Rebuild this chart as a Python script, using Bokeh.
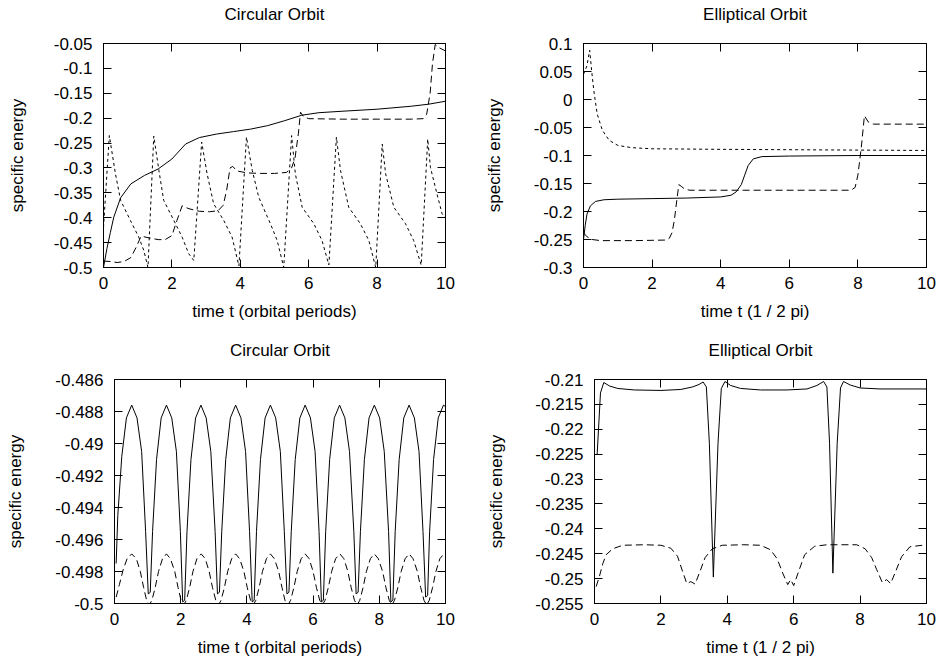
from bokeh.plotting import figure
from bokeh.layouts import column, row
from bokeh.models import FixedTicker, LinearAxis
from bokeh.embed import file_html
from bokeh.resources import INLINE

# ---------------- data ----------------
x_ticks = [0, 2, 4, 6, 8, 10]
x_tick_labels = ["0", "2", "4", "6", "8", "10"]

# Panel 1: circular orbit (top left)
p1_yticks = [-0.5, -0.45, -0.4, -0.35, -0.3, -0.25, -0.2, -0.15, -0.1, -0.05]
p1_ylabels = ["-0.5", "-0.45", "-0.4", "-0.35", "-0.3", "-0.25", "-0.2", "-0.15", "-0.1", "-0.05"]
t1_solid = [0, 0.1, 0.2, 0.3, 0.5, 0.8, 1.2, 1.6, 2.0, 2.4, 2.8, 3.3, 3.8, 4.3, 4.8, 5.3,
            5.8, 6.3, 7, 8, 9, 9.5, 10]
e1_solid = [-0.5, -0.462, -0.43, -0.399, -0.36, -0.332, -0.315, -0.302, -0.282, -0.252, -0.239,
            -0.232, -0.227, -0.222, -0.215, -0.205, -0.194, -0.189, -0.186, -0.182, -0.176,
            -0.172, -0.166]
t1_dash = [0, 0.2, 0.4, 0.6, 0.8, 0.95, 1.1, 1.3, 1.6, 1.8, 2.0, 2.15, 2.3, 2.5, 2.8, 3.1,
           3.35, 3.5, 3.6, 3.7, 3.78, 3.9, 4.2, 4.6, 5.0, 5.35, 5.5, 5.6, 5.7, 5.76, 5.85,
           6.0, 7.0, 8.0, 9.0, 9.35, 9.45, 9.55, 9.62, 9.70, 9.8, 10.0]
e1_dash = [-0.487, -0.488, -0.490, -0.488, -0.480, -0.460, -0.437, -0.440, -0.444, -0.444,
           -0.436, -0.405, -0.376, -0.382, -0.387, -0.388, -0.386, -0.375, -0.345, -0.300,
           -0.297, -0.306, -0.310, -0.311, -0.311, -0.309, -0.300, -0.280, -0.230, -0.188,
           -0.197, -0.201, -0.202, -0.202, -0.202, -0.201, -0.192, -0.150, -0.090, -0.052,
           -0.058, -0.065]
t1_dot = [0.0, 0.17, 0.35, 0.5, 0.79, 1.03, 1.18, 1.3, 1.47, 1.62, 1.76, 2.06, 2.3, 2.49,
          2.64, 2.87, 3.03, 3.22, 3.52, 3.76, 3.96, 4.18, 4.35, 4.54, 4.88, 5.08, 5.27, 5.5,
          5.61, 5.81, 6.15, 6.39, 6.59, 6.81, 6.93, 7.17, 7.51, 7.76, 7.96, 8.15, 8.25, 8.49,
          8.83, 9.07, 9.29, 9.48, 9.56, 9.75, 9.9, 10.0]
e1_dot = [-0.42, -0.235, -0.312, -0.365, -0.406, -0.439, -0.466, -0.5, -0.236, -0.305, -0.365,
          -0.406, -0.439, -0.472, -0.486, -0.248, -0.312, -0.372, -0.406, -0.439, -0.497,
          -0.238, -0.305, -0.359, -0.412, -0.446, -0.5, -0.235, -0.312, -0.379, -0.412, -0.446,
          -0.495, -0.238, -0.305, -0.379, -0.412, -0.446, -0.5, -0.252, -0.312, -0.379, -0.412,
          -0.446, -0.495, -0.242, -0.299, -0.352, -0.392, -0.40]

# Panel 2: elliptical orbit (top right)
p2_yticks = [-0.3, -0.25, -0.2, -0.15, -0.1, -0.05, 0, 0.05, 0.1]
p2_ylabels = ["-0.3", "-0.25", "-0.2", "-0.15", "-0.1", "-0.05", "0", "0.05", "0.1"]
t2_solid = [0, 0.05, 0.1, 0.2, 0.35, 0.6, 1.0, 2.0, 3.0, 4.0, 4.3, 4.45, 4.6, 4.7, 4.8, 4.95,
            5.2, 6, 8, 10]
e2_solid = [-0.250, -0.225, -0.205, -0.19, -0.182, -0.179, -0.178, -0.177, -0.176, -0.174,
            -0.171, -0.165, -0.152, -0.135, -0.118, -0.106, -0.102, -0.101, -0.100, -0.100]
t2_dash = [0, 0.1, 0.25, 0.5, 1.5, 2.4, 2.5, 2.58, 2.65, 2.72, 2.78, 2.85, 2.95, 3.1, 5, 7.8,
           7.92, 8.0, 8.1, 8.19, 8.3, 8.45, 10]
e2_dash = [-0.238, -0.245, -0.250, -0.252, -0.252, -0.251, -0.248, -0.238, -0.215, -0.180,
           -0.152, -0.155, -0.160, -0.162, -0.162, -0.162, -0.157, -0.135, -0.085, -0.029,
           -0.040, -0.044, -0.044]
t2_dot = [0, 0.1, 0.18, 0.24, 0.3, 0.4, 0.55, 0.75, 1.0, 1.4, 2.0, 4, 7, 10]
e2_dot = [0.045, 0.06, 0.088, 0.05, 0.016, -0.026, -0.055, -0.073, -0.082, -0.086, -0.088,
          -0.089, -0.090, -0.091]

# Panel 3: circular orbit (bottom left)
p3_yticks = [-0.5, -0.498, -0.496, -0.494, -0.492, -0.49, -0.488, -0.486]
p3_ylabels = ["-0.5", "-0.498", "-0.496", "-0.494", "-0.492", "-0.49", "-0.488", "-0.486"]
t3_solid = [0.05, 0.10, 0.22, 0.36, 0.52, 0.68, 0.82, 0.94,
            1.02, 1.08, 1.15, 1.27, 1.41, 1.57, 1.73, 1.87, 1.99,
            2.06, 2.12, 2.19, 2.31, 2.45, 2.61, 2.77, 2.91, 3.04,
            3.11, 3.17, 3.24, 3.36, 3.50, 3.66, 3.82, 3.96, 4.08,
            4.16, 4.22, 4.29, 4.41, 4.55, 4.71, 4.87, 5.01, 5.13,
            5.21, 5.27, 5.34, 5.46, 5.60, 5.76, 5.92, 6.06, 6.18,
            6.25, 6.31, 6.38, 6.50, 6.64, 6.80, 6.96, 7.10, 7.23,
            7.30, 7.36, 7.43, 7.55, 7.69, 7.85, 8.01, 8.15, 8.28,
            8.35, 8.41, 8.48, 8.60, 8.74, 8.90, 9.06, 9.20, 9.32,
            9.40, 9.46, 9.52, 9.64, 9.78, 9.94, 10.0]
e3_solid = [-0.4975, -0.4945, -0.4908, -0.4884, -0.4876, -0.4884, -0.4905, -0.4955,
            -0.4994, -0.4993, -0.4955, -0.4910, -0.4884, -0.4876, -0.4884, -0.4905, -0.4955,
            -0.4999, -0.4998, -0.4955, -0.4910, -0.4884, -0.4876, -0.4884, -0.4905, -0.4955,
            -0.4994, -0.4993, -0.4955, -0.4910, -0.4884, -0.4876, -0.4884, -0.4905, -0.4955,
            -0.4999, -0.4998, -0.4955, -0.4910, -0.4884, -0.4876, -0.4884, -0.4905, -0.4955,
            -0.4994, -0.4993, -0.4955, -0.4910, -0.4884, -0.4876, -0.4884, -0.4905, -0.4955,
            -0.4999, -0.4998, -0.4955, -0.4910, -0.4884, -0.4876, -0.4884, -0.4905, -0.4955,
            -0.4994, -0.4993, -0.4955, -0.4910, -0.4884, -0.4876, -0.4884, -0.4905, -0.4955,
            -0.4999, -0.4998, -0.4955, -0.4910, -0.4884, -0.4876, -0.4884, -0.4905, -0.4955,
            -0.4996, -0.4995, -0.4955, -0.4910, -0.4884, -0.4876, -0.4877]
t3_dash = [0.05, 0.15, 0.26, 0.38, 0.52, 0.66, 0.78, 0.88, 0.97,
           1.05, 1.13, 1.23, 1.33, 1.45, 1.57, 1.69, 1.82, 1.92, 2.01,
           2.09, 2.17, 2.27, 2.37, 2.49, 2.62, 2.74, 2.86, 2.96, 3.06,
           3.14, 3.22, 3.32, 3.42, 3.54, 3.66, 3.78, 3.91, 4.01, 4.11,
           4.19, 4.27, 4.37, 4.47, 4.59, 4.71, 4.83, 4.96, 5.06, 5.15,
           5.24, 5.32, 5.42, 5.52, 5.64, 5.76, 5.88, 6.00, 6.10, 6.20,
           6.28, 6.36, 6.46, 6.56, 6.68, 6.81, 6.93, 7.05, 7.15, 7.25,
           7.33, 7.41, 7.51, 7.61, 7.73, 7.85, 7.97, 8.10, 8.20, 8.30,
           8.38, 8.46, 8.56, 8.66, 8.78, 8.90, 9.02, 9.15, 9.25, 9.35,
           9.43, 9.51, 9.61, 9.71, 9.83, 9.95, 10.0]
e3_dash = [-0.4996, -0.4988, -0.4979, -0.4972, -0.4969, -0.4972, -0.4980, -0.4990, -0.4998,
           -0.5001, -0.4998, -0.4990, -0.4980, -0.4972, -0.4969, -0.4972, -0.4980, -0.4990, -0.4998,
           -0.5001, -0.4998, -0.4990, -0.4980, -0.4972, -0.4969, -0.4972, -0.4980, -0.4990, -0.4998,
           -0.5001, -0.4998, -0.4990, -0.4980, -0.4972, -0.4969, -0.4972, -0.4980, -0.4990, -0.4998,
           -0.5001, -0.4998, -0.4990, -0.4980, -0.4972, -0.4969, -0.4972, -0.4980, -0.4990, -0.4998,
           -0.5001, -0.4998, -0.4990, -0.4980, -0.4972, -0.4969, -0.4972, -0.4980, -0.4990, -0.4998,
           -0.5001, -0.4998, -0.4990, -0.4980, -0.4972, -0.4969, -0.4972, -0.4980, -0.4990, -0.4998,
           -0.5001, -0.4998, -0.4990, -0.4980, -0.4972, -0.4969, -0.4972, -0.4980, -0.4990, -0.4998,
           -0.5001, -0.4998, -0.4990, -0.4980, -0.4972, -0.4969, -0.4972, -0.4980, -0.4990, -0.4998,
           -0.5001, -0.4998, -0.4990, -0.4980, -0.4972, -0.4969, -0.4970]

# Panel 4: elliptical orbit (bottom right)
p4_yticks = [-0.255, -0.25, -0.245, -0.24, -0.235, -0.23, -0.225, -0.22, -0.215, -0.21]
p4_ylabels = ["-0.255", "-0.25", "-0.245", "-0.24", "-0.235", "-0.23", "-0.225", "-0.22",
              "-0.215", "-0.21"]
t4_solid = [0.08, 0.18, 0.28, 0.45, 0.7, 1.2, 2.0, 2.6, 2.95, 3.15, 3.27, 3.37, 3.46, 3.58,
            3.72, 3.82, 3.93, 4.1, 4.4, 5.0, 5.8, 6.4, 6.7, 6.9, 7.0, 7.08, 7.18, 7.31, 7.41,
            7.5, 7.7, 8.0, 8.6, 10]
e4_solid = [-0.2250, -0.2127, -0.2106, -0.2113, -0.2118, -0.2121, -0.2122, -0.2120, -0.2115,
            -0.2110, -0.2105, -0.2115, -0.2228, -0.2497, -0.2228, -0.2118, -0.2104, -0.2112,
            -0.2118, -0.2121, -0.2121, -0.2119, -0.2112, -0.2104, -0.2115, -0.2228, -0.2489,
            -0.2228, -0.2117, -0.2104, -0.2111, -0.2117, -0.2119, -0.2119]
t4_dash = [0.05, 0.15, 0.25, 0.35, 0.55, 0.85, 1.5, 2.0, 2.3, 2.5, 2.65, 2.78, 2.9, 3.03, 3.18,
           3.33, 3.55, 3.85, 4.5, 5.0, 5.3, 5.5, 5.67, 5.82, 5.91, 6.0, 6.13, 6.33, 6.63, 7.0,
           7.9, 8.15, 8.35, 8.5, 8.67, 8.8, 8.92, 9.05, 9.25, 9.5, 10]
e4_dash = [-0.2516, -0.2495, -0.2470, -0.2452, -0.2440, -0.2433, -0.2432, -0.2433, -0.2439,
           -0.2455, -0.2485, -0.2510, -0.2506, -0.2511, -0.2485, -0.2458, -0.2440, -0.2433,
           -0.2432, -0.2433, -0.2442, -0.2460, -0.2489, -0.2512, -0.2502, -0.2514, -0.2489,
           -0.2452, -0.2435, -0.2432, -0.2432, -0.2440, -0.2458, -0.2482, -0.2508, -0.2502,
           -0.2510, -0.2489, -0.2456, -0.2436, -0.2432]

FONT = "Liberation Sans"
FS = "17px"
LONG_DASH = "7 4"
SHORT_DASH = "3 3"


def style_axis(ax, ticks, labels):
    ax.ticker = FixedTicker(ticks=ticks)
    ax.major_label_overrides = dict(zip(ticks, labels))
    ax.major_tick_in = 8
    ax.major_tick_out = 0
    ax.minor_tick_line_color = None
    ax.axis_line_color = "black"
    ax.major_tick_line_color = "black"
    ax.major_label_text_font = FONT
    ax.major_label_text_font_size = FS
    ax.major_label_text_color = "black"
    ax.axis_label_text_font = FONT
    ax.axis_label_text_font_size = FS
    ax.axis_label_text_font_style = "normal"
    ax.axis_label_text_color = "black"


def mirror_axis(ticks):
    # tick marks only (gnuplot-style mirrored ticks); labels are not drawn
    return LinearAxis(ticker=FixedTicker(ticks=ticks), major_label_text_font_size="1px",
                      major_label_text_color=None,
                      axis_line_color=None, major_tick_in=8, major_tick_out=0,
                      minor_tick_line_color=None, major_label_standoff=0,
                      major_tick_line_color="black")


def panel(title, xlabel, yrange, yticks, ylabels, width, borders, ylab_standoff, title_standoff):
    left, right, top, bottom = borders
    p = figure(width=width, height=332, x_range=(0, 10), y_range=yrange,
               output_backend="svg", toolbar_location=None, title=title,
               min_border_left=left, min_border_right=right,
               min_border_top=top, min_border_bottom=bottom)
    p.grid.visible = False
    p.outline_line_color = "black"
    p.outline_line_alpha = 1
    p.outline_line_width = 1
    p.background_fill_color = "white"
    p.border_fill_color = "white"
    p.title.text_font = FONT
    p.title.text_font_size = FS
    p.title.text_font_style = "normal"
    p.title.align = "center"
    p.title.text_color = "black"
    p.title.standoff = title_standoff
    style_axis(p.xaxis[0], x_ticks, x_tick_labels)
    style_axis(p.yaxis[0], yticks, ylabels)
    p.xaxis[0].axis_label = xlabel
    p.yaxis[0].axis_label = "specific energy"
    p.xaxis[0].major_label_standoff = 9
    p.xaxis[0].axis_label_standoff = 10
    p.yaxis[0].major_label_standoff = 11
    p.yaxis[0].axis_label_standoff = ylab_standoff
    p.add_layout(mirror_axis(x_ticks), "above")
    p.add_layout(mirror_axis(yticks), "right")
    return p


# the trailing empty line lifts the one-line title to gnuplot's height above the frame
p1 = panel("Circular Orbit\n", "time t (orbital periods)", (-0.5, -0.05), p1_yticks, p1_ylabels,
           469, (103, 24, 43, 65), 24, 2)
p1.line(t1_solid, e1_solid, line_color="black", line_width=1)
p1.line(t1_dash, e1_dash, line_color="black", line_width=1, line_dash=LONG_DASH)
p1.line(t1_dot, e1_dot, line_color="black", line_width=1, line_dash=SHORT_DASH)

p2 = panel("Elliptical Orbit\n", "time t (1 / 2 pi)", (-0.3, 0.1), p2_yticks, p2_ylabels,
           470, (114, 13, 43, 65), 27, 2)
p2.line(t2_solid, e2_solid, line_color="black", line_width=1)
p2.line(t2_dash, e2_dash, line_color="black", line_width=1, line_dash=LONG_DASH)
p2.line(t2_dot, e2_dot, line_color="black", line_width=1, line_dash=SHORT_DASH)

p3 = panel("Circular Orbit\n", "time t (orbital periods)", (-0.5, -0.486), p3_yticks, p3_ylabels,
           469, (114, 24, 47, 61), 27, 2)
p3.line(t3_solid, e3_solid, line_color="black", line_width=1)
p3.line(t3_dash, e3_dash, line_color="black", line_width=1, line_dash=LONG_DASH)

p4 = panel("Elliptical Orbit\n", "time t (1 / 2 pi)", (-0.255, -0.21), p4_yticks, p4_ylabels,
           470, (125, 13, 47, 61), 26, 2)
p4.line(t4_solid, e4_solid, line_color="black", line_width=1)
p4.line(t4_dash, e4_dash, line_color="black", line_width=1, line_dash=LONG_DASH)

layout = column(row(p1, p2), row(p3, p4))
open("out.html", "w").write(file_html(layout, INLINE))
